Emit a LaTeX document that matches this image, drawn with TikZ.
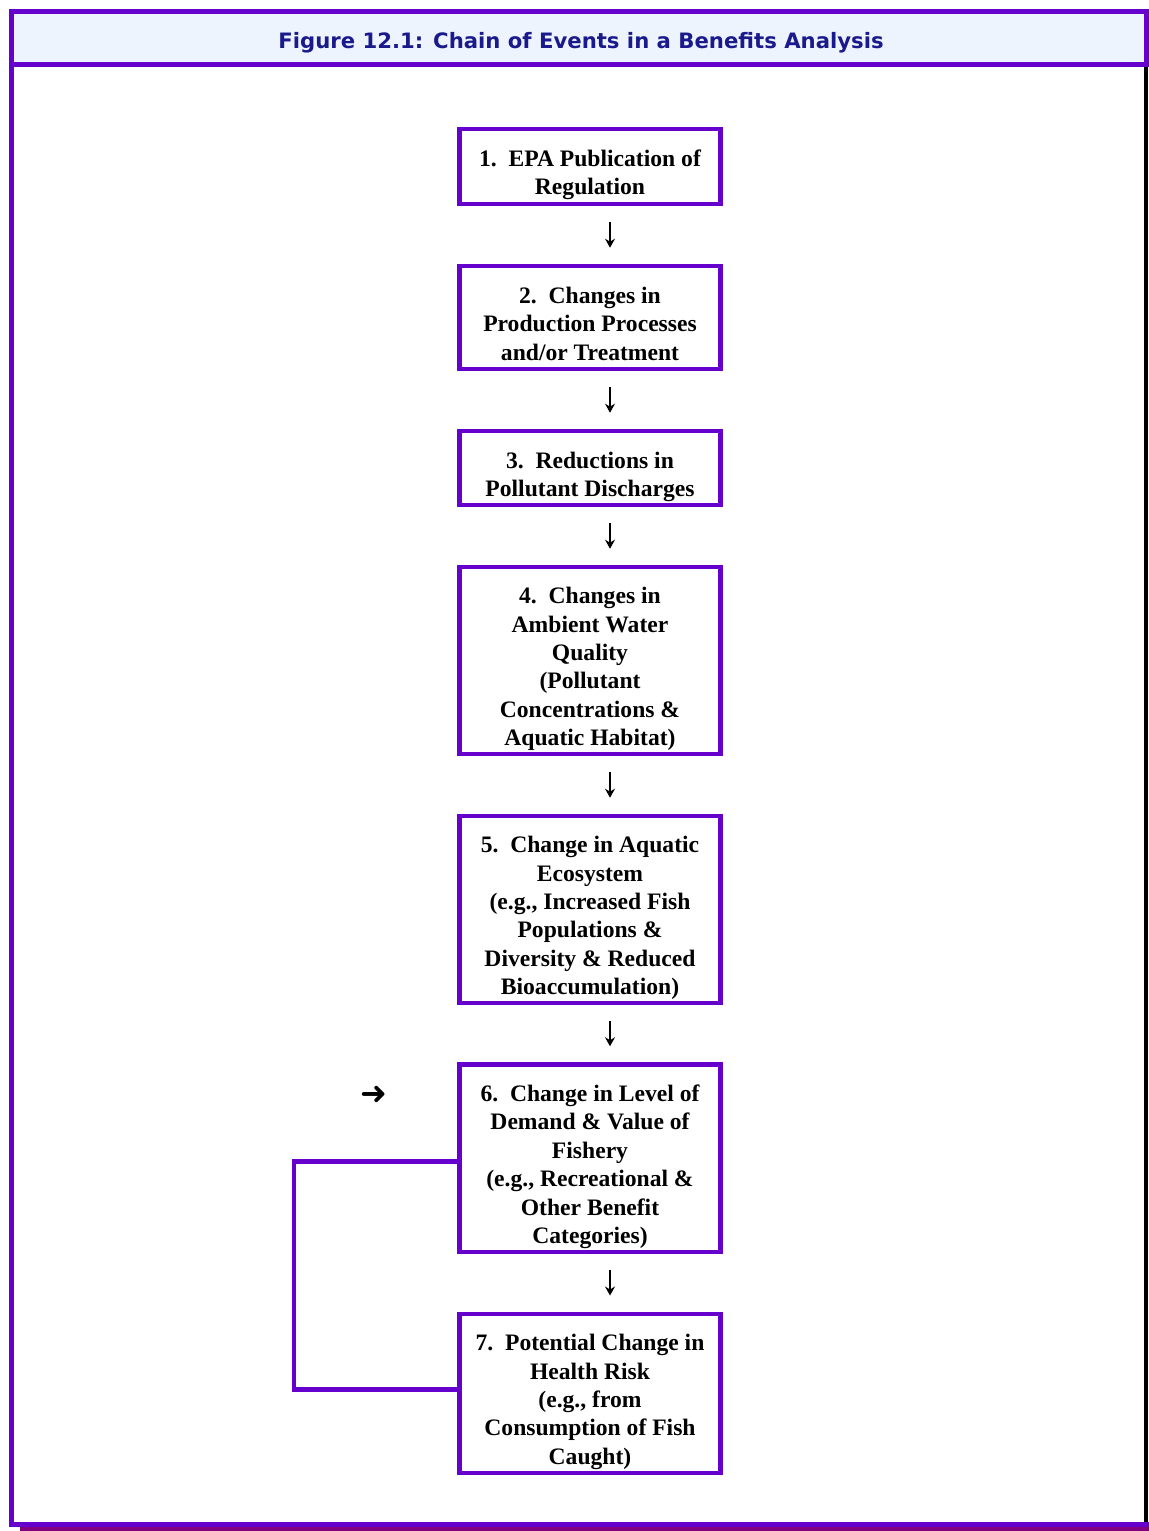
\documentclass[tikz,border=0pt]{standalone}
\usepackage{fontspec}
\setmainfont{Liberation Serif}
\newfontfamily\titlefont{DejaVu Sans}
\newfontfamily\symbfont{DejaVu Sans}
\usetikzlibrary{arrows.meta}

\definecolor{framepurple}{RGB}{102,0,204}
\definecolor{shadowpurple}{RGB}{128,0,128}
\definecolor{bandblue}{RGB}{238,244,254}
\definecolor{titleblue}{RGB}{26,26,140}

\newcommand{\chaintext}[1]{\raisebox{-4.3pt}[\height][\depth]{\begin{tabular}{@{}c@{}}#1\end{tabular}}}

\begin{document}
\begin{tikzpicture}[x=0.5pt, y=-0.5pt,
    chainbox/.style={draw=framepurple, line width=2.3pt, minimum width=130.5pt, inner sep=0pt,
        font=\fontsize{11.8}{14.2}\selectfont\bfseries},
    flowarrow/.style={-{Stealth[length=4.5pt, width=5pt, inset=1.5pt]}, line width=0.6pt,
        shorten <=8pt, shorten >=8pt},
    frameline/.style={framepurple, line width=2.5pt},
    loopline/.style={draw=framepurple, line width=2.3pt}]
    \useasboundingbox (0,0) rectangle (1149,1531);

    % Frame and title band
    \fill[bandblue] (11.5,11.5) rectangle (1146.5,64);
    \draw[shadowpurple, line width=2pt] (20,1529) -- (1149,1529);
    \draw[black, line width=2pt] (1146,64) -- (1146,1524);
    \draw[frameline] (1146.5,64) -- (1146.5,11.5) -- (11.5,11.5) -- (11.5,1524.2) -- (1149,1524.2);
    \draw[frameline] (11.5,64) -- (1149,64);
    \node[font=\titlefont\fontsize{10.6}{13}\selectfont\bfseries, text=titleblue] (title) at (581,43)
        {Figure 12.1: Chain of Events in a Benefits Analysis};

    % Chain of boxes
    \node[chainbox, minimum height=37.5pt] (b1) at (590,166.5)
        {\chaintext{1.\ \ EPA Publication of\\Regulation}};
    \node[chainbox, minimum height=51.5pt] (b2) at (590,317.5)
        {\chaintext{2.\ \ Changes in\\Production Processes\\and/or Treatment}};
    \node[chainbox, minimum height=37pt] (b3) at (590,468)
        {\chaintext{3.\ \ Reductions in\\Pollutant Discharges}};
    \node[chainbox, minimum height=93.5pt] (b4) at (590,660.5)
        {\chaintext{4.\ \ Changes in\\Ambient Water\\Quality\\(Pollutant\\Concentrations \&\\Aquatic Habitat)}};
    \node[chainbox, minimum height=93.5pt] (b5) at (590,909.5)
        {\chaintext{5.\ \ Change in Aquatic\\Ecosystem\\(e.g., Increased Fish\\Populations \&\\Diversity \& Reduced\\Bioaccumulation)}};
    \node[chainbox, minimum height=93.75pt] (b6) at (590,1158.3)
        {\chaintext{6.\ \ Change in Level of\\Demand \& Value of\\Fishery\\(e.g., Recreational \&\\Other Benefit\\Categories)}};
    \node[chainbox, minimum height=79.5pt] (b7) at (590,1393.3)
        {\chaintext{7.\ \ Potential Change in\\Health Risk\\(e.g., from\\Consumption of Fish\\Caught)}};

    % Arrows between boxes
    \foreach \a/\b in {b1/b2, b2/b3, b3/b4, b4/b5, b5/b6, b6/b7}
        \draw[flowarrow] ([xshift=10pt]\a.south) -- ([xshift=10pt]\b.north);

    % Feedback bracket and marker
    \coordinate (loopcorner) at (294,1275);
    \draw[loopline] ([yshift=-1.6pt]b6.west) -| (loopcorner) |- ([yshift=1.9pt]b7.west);
    \node[font=\symbfont\fontsize{16}{16}\selectfont] (mark) at (374,1095) {➜};
\end{tikzpicture}
\end{document}
